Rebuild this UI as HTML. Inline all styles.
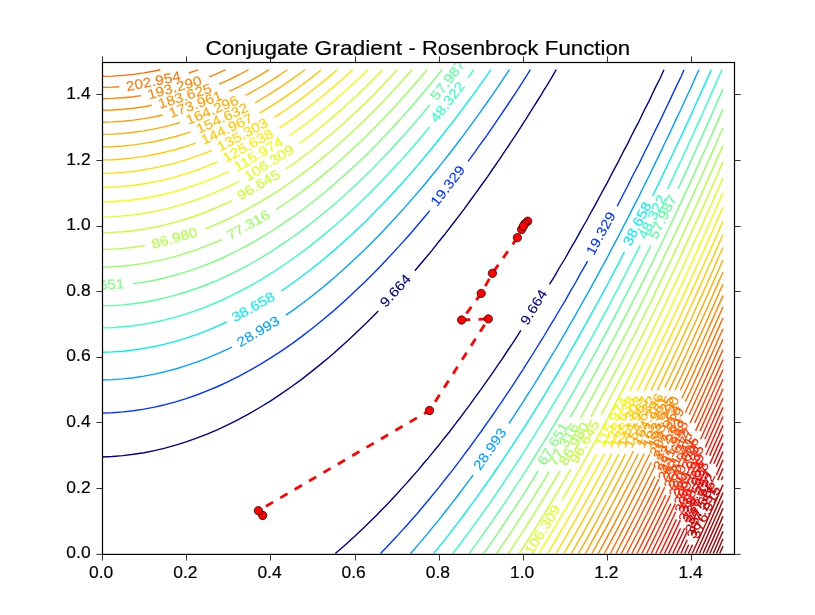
<!DOCTYPE html>
<html><head><meta charset="utf-8"><title>Conjugate Gradient - Rosenbrock Function</title>
<style>html,body{margin:0;padding:0;background:#fff;}body{width:815px;height:615px;overflow:hidden;}svg{display:block;}text{font-family:"Liberation Sans",sans-serif;}</style>
</head><body>
<svg width="815" height="615" viewBox="0 0 815 615">
<rect x="0" y="0" width="815" height="615" fill="#ffffff"/>
<defs><filter id="chroma" filterUnits="userSpaceOnUse" x="90" y="50" width="657" height="517" color-interpolation-filters="sRGB"><feColorMatrix in="SourceGraphic" type="matrix" values="0.299 0.587 0.114 0 0  0.299 0.587 0.114 0 0  0.299 0.587 0.114 0 0  0 0 0 0 1" result="Y"/><feColorMatrix in="SourceGraphic" type="matrix" values="0.3505 -0.2935 -0.057 0 0.50196  -0.1495 0.2065 -0.057 0 0.50196  -0.1495 -0.2935 0.443 0 0.50196  0 0 0 0 1" result="C"/><feConvolveMatrix in="C" order="3" kernelMatrix="1 2 1 2 4 2 1 2 1" divisor="16" edgeMode="duplicate" preserveAlpha="true" result="CB"/><feComposite in="Y" in2="CB" operator="arithmetic" k1="0" k2="1" k3="2" k4="-1.00392"/></filter></defs>
<defs><clipPath id="axclip"><rect x="102.50" y="62.50" width="632.00" height="491.90"/></clipPath></defs>
<g clip-path="url(#axclip)"><g filter="url(#chroma)"><rect x="80" y="40" width="680" height="540" fill="#fff"/>
<g clip-path="url(#axclip)" fill="none" stroke-width="1.39" stroke-linejoin="round" stroke-linecap="butt">
<path stroke="#000080" d="M335.3 553.5L344.0 546.0L354.5 536.5L365.1 526.5L370.9 520.7L375.6 516.2L379.1 512.5L386.1 505.4L396.6 494.2L402.3 487.9L407.2 482.6L409.6 479.7L417.7 470.6L423.7 463.3L428.2 458.1L430.6 455.1L438.7 445.3L443.8 438.7L449.3 432.0L456.6 422.3L459.8 418.3L462.8 414.1L470.3 404.2L474.9 397.7L480.8 389.7L486.6 381.3L491.4 374.7L498.0 364.9L501.9 359.4L509.0 348.5L512.4 343.6L514.5 340.3L520.9 330.4M549.5 284.4L550.4 282.9L554.5 276.3L560.1 266.5L565.1 258.5L569.7 250.1L575.6 240.2L579.1 233.7L583.7 225.5L586.1 221.5L588.3 217.3L592.8 209.1L596.6 202.4L601.7 192.7L607.2 182.9L610.5 176.3L614.8 168.1L617.7 162.9L623.3 151.7L628.2 142.6L631.7 135.3L635.9 127.1L638.8 121.8L644.0 110.7L649.3 100.6L652.2 94.3L656.1 86.1L659.8 79.0L664.0 69.7M101.9 457.0L112.4 456.5L122.9 455.6L133.5 454.3L144.0 452.7L154.5 450.6L165.0 448.1L175.6 445.2L186.1 441.9L196.6 438.2L207.1 434.1L217.7 429.6L228.2 424.7L238.7 419.4L249.3 413.6L259.8 407.5L270.3 401.1L280.8 394.1L291.4 386.8L301.9 379.1L312.4 370.9L322.9 362.4L329.7 356.7L333.5 353.5L344.0 344.1L348.2 340.3L356.9 332.1L365.3 323.9L373.6 315.7L378.3 310.9M414.8 270.8L425.4 258.3L432.2 250.1L438.7 241.8L445.3 233.7L451.6 225.5L464.1 209.1L470.3 200.5L476.1 192.7L480.8 186.0L487.8 176.3L491.4 171.0L499.1 159.9L501.9 155.6L504.6 151.7L510.1 143.5L512.4 139.8L515.5 135.3L520.8 127.1L523.0 123.6L526.1 118.9L531.2 110.7L533.5 107.0L536.4 102.5L541.5 94.3L544.0 90.0L546.5 86.1L551.5 77.9L554.5 72.6L556.3 69.7"/>
<path stroke="#0034ff" d="M380.5 553.5L386.1 547.8L396.6 536.6L403.5 528.9L407.2 525.0L410.8 520.7L417.7 513.0L424.9 504.3L428.2 500.5L431.7 496.1L438.7 487.6L444.9 479.7L449.3 474.3L459.8 460.6L463.8 455.1L470.3 446.5L475.9 438.7L480.8 432.0L487.5 422.3L491.4 417.0L498.9 405.9L501.9 401.6L504.5 397.7L512.4 385.8L515.3 381.3L523.0 369.6L525.9 364.9L533.5 353.0L536.2 348.5L541.3 340.3L544.0 336.0L551.2 323.9L554.5 318.6L561.0 307.5L565.1 300.8L570.5 291.1L575.6 282.5L579.8 274.7L586.1 263.8L587.5 261.2M617.2 206.2L624.1 192.7L628.2 185.0L632.4 176.3L638.8 164.2L644.8 151.7L649.3 143.0L652.9 135.3L656.9 127.1L659.8 121.4L664.8 110.7L670.3 99.4L672.6 94.3L676.4 86.1L680.9 77.0L684.1 69.7M101.9 413.1L112.4 412.7L122.9 411.9L133.5 410.7L144.0 409.1L154.5 407.1L165.0 404.7L175.6 401.9L186.1 398.6L196.6 395.0L207.1 390.9L217.7 386.5L228.2 381.6L238.7 376.4L249.3 370.7L259.8 364.6L270.3 358.2L280.8 351.3L291.4 344.1L301.9 336.4L312.4 328.3L322.9 319.8L333.5 310.9L344.0 301.6L346.5 299.3L354.5 291.8L365.1 281.7L375.6 271.2L386.1 260.3L396.6 248.9L403.0 241.9L407.2 237.2L410.3 233.7L424.3 217.3L429.8 210.6M468.1 161.3L475.2 151.7L480.8 143.7L486.9 135.3L498.2 118.9L509.2 102.5L514.6 94.3L520.0 86.1L530.4 69.7"/>
<path stroke="#00a0ff" d="M410.6 553.5L417.7 545.4L424.6 537.1L428.2 532.9L431.4 528.9L438.7 520.1L444.6 512.5L449.3 506.7L459.8 493.0L463.5 487.9L470.3 478.9L473.2 474.8M508.9 423.5L512.4 418.3L515.1 414.1L523.0 402.1L525.7 397.7L533.5 385.5L541.1 373.1L544.0 368.4L551.0 356.7L554.5 351.0L560.8 340.3L565.1 333.2L570.3 323.9L575.6 314.9L579.7 307.5L586.1 296.2L588.9 291.1L593.4 282.9L596.6 277.1L602.3 266.5L607.2 257.7L611.0 250.1L617.7 237.7L623.9 225.5L628.2 217.4L632.3 209.1L638.8 196.6L644.7 184.5L649.3 175.5L652.8 168.1L656.8 159.9L659.8 153.9L664.6 143.5L670.3 131.9L676.3 118.9L680.9 109.5L684.0 102.5L687.8 94.3L691.4 86.7L695.2 77.9L699.0 69.7M101.9 380.0L112.4 379.6L122.9 378.9L133.5 377.7L144.0 376.1L154.5 374.1L165.0 371.7L175.6 369.0L186.1 365.7L196.6 362.2L207.1 358.1L217.7 353.7L228.2 348.9L232.1 347.0M285.8 315.2L291.4 311.4L301.9 303.8L312.4 295.7L322.9 287.2L328.1 282.9L333.5 278.3L344.0 269.0L354.5 259.3L365.1 249.2L372.4 241.9L380.5 233.7L386.1 227.8L396.6 216.5L403.3 209.1L410.5 200.9L424.6 184.5L431.3 176.3L437.9 168.1L444.5 159.9L450.9 151.7L457.2 143.5L463.4 135.3L475.4 118.9L487.1 102.5L492.8 94.3L498.4 86.1L509.4 69.7"/>
<path stroke="#06ecf1" d="M433.7 553.5L438.7 547.4L449.3 534.1L453.2 528.9L459.8 520.4L465.6 512.5L470.3 506.2L477.6 496.1L480.8 491.7L491.4 476.7L494.9 471.5L501.9 461.4L506.0 455.1L512.4 445.6L516.8 438.7L523.0 429.4L527.4 422.3L533.5 412.8L537.7 405.9L544.0 395.8L547.7 389.5L554.5 378.3L557.6 373.1L565.1 360.5L571.9 348.5L575.6 342.2L581.2 332.1L586.1 323.6L590.4 315.7L596.6 304.5L603.8 291.1L607.2 285.0L612.5 274.7L617.7 265.1L621.1 258.3L624.5 251.8M652.6 196.0L654.1 192.7L659.8 181.3L666.0 168.1L670.3 159.3L673.8 151.7L677.7 143.5L680.9 136.9L685.3 127.1L691.4 114.1L696.5 102.5L701.9 90.9L707.6 77.9L711.3 69.7M101.9 352.3L112.4 351.9L122.9 351.2L133.5 350.0L144.0 348.4L154.5 346.5L165.0 344.1L175.6 341.3L186.1 338.2L196.6 334.6L207.1 330.6L217.7 326.2L226.9 322.0M281.1 291.0L291.4 284.0L301.9 276.3L312.4 268.3L322.9 259.8L333.5 250.9L344.0 241.6L354.5 231.9L361.3 225.5L365.1 221.9L375.6 211.3L386.1 200.4L393.3 192.7L400.8 184.5L407.2 177.4L415.3 168.1L422.2 159.9L428.2 152.7L438.7 139.8L442.3 135.3L455.1 118.9L467.4 102.5L473.4 94.3L479.3 86.1L485.2 77.9L490.9 69.7"/>
<path stroke="#33ffc4" d="M452.8 553.5L459.8 544.5L465.2 537.1L470.3 530.3L477.2 520.7L480.8 515.8L491.4 500.8L494.6 496.1L501.9 485.5L505.7 479.7L512.4 469.7L516.5 463.3L523.0 453.5L527.1 446.9L533.5 436.9L537.4 430.5L544.0 419.9L547.4 414.1L554.5 402.4L562.1 389.5L565.1 384.6L571.6 373.1L575.6 366.3L580.9 356.7L586.1 347.7L590.1 340.3L596.6 328.6L603.5 315.7L607.2 309.1L612.2 299.3L617.7 289.2L620.9 282.9L625.1 274.7L628.2 268.8L633.5 258.3L638.8 248.1L640.1 245.3M667.5 189.2L670.3 183.4L673.6 176.3L677.4 168.1L680.9 161.0L685.1 151.7L691.4 138.2L696.3 127.1L701.9 115.0L707.4 102.5L712.4 91.4L718.2 77.9L721.9 69.7M101.9 327.9L112.4 327.6L122.9 326.8L133.5 325.7L144.0 324.1L154.5 322.2L165.0 319.9L175.6 317.1L186.1 313.9L196.6 310.3L207.1 306.3L217.7 302.0L228.2 297.2L238.7 291.9L249.3 286.3L259.8 280.3L270.3 273.9L280.8 267.0L291.4 259.8L301.9 252.2L312.4 244.1L322.9 235.6L333.5 226.8L344.0 217.5L353.1 209.1L365.1 197.7L375.6 187.2L386.1 176.3L393.8 168.1L401.3 159.9L408.6 151.7L417.7 141.2L422.7 135.3L429.6 126.9M468.0 77.6L473.8 69.7"/>
<path stroke="#5aff9d" d="M469.3 553.5L480.8 537.6L486.9 528.9L491.4 522.6L498.2 512.5L501.9 507.2L509.3 496.1L512.4 491.4L523.0 475.2L530.5 463.3L533.5 458.6L540.7 446.9L544.0 441.6L550.7 430.5L554.5 424.2L560.4 414.1L565.1 406.4L570.0 397.7L575.6 388.1L579.3 381.3L586.1 369.4L593.1 356.7L596.6 350.3L602.0 340.3L607.2 330.8L610.8 323.9L617.7 310.9L623.6 299.3L628.2 290.6L632.1 282.9L638.8 269.9L644.4 258.3L649.3 248.7L650.9 245.4M677.9 189.1L680.9 182.8L687.6 168.1L691.4 160.0L695.1 151.7L698.8 143.5L701.9 136.8L706.1 127.1L712.4 113.2L717.0 102.5L723.0 89.1M101.9 305.9L112.4 305.6L122.9 304.9L133.5 303.8L144.0 302.2L154.5 300.3L165.0 297.9L175.6 295.2L186.1 292.0L196.6 288.5L207.1 284.5L217.7 280.1L228.2 275.3L238.7 270.1L249.3 264.5L259.8 258.5L270.3 252.1L280.8 245.2L291.4 238.0L301.9 230.4L312.4 222.3L322.9 213.8L333.5 205.0L344.0 195.7L354.5 186.0L365.1 175.9L375.6 165.4L386.1 154.5L388.8 151.7L396.6 143.2L407.2 131.5L417.7 119.4L425.0 110.7L429.8 105.0"/>
<path stroke="#7aff7d" d="M483.7 553.5L491.4 542.6L495.1 537.1L501.9 527.2L506.2 520.7L512.4 511.5L517.0 504.3L523.0 495.3L527.6 487.9L533.5 478.7L538.2 470.9M570.3 417.2L575.6 408.1L581.4 397.7L586.1 389.5L590.5 381.3L596.6 370.3L604.0 356.7L607.2 350.9L612.7 340.3L617.7 331.0L621.3 323.9L628.2 310.6L633.9 299.3L638.8 289.9L642.2 282.9L649.3 268.8L654.3 258.3L659.8 247.2L666.2 233.7L670.3 225.3L674.0 217.3L680.9 202.9L685.5 192.7L691.4 180.1L696.7 168.1L701.9 156.8L707.8 143.5L712.4 133.2L718.6 118.9L723.0 109.2M133.0 283.6L144.0 282.1L154.5 280.2L165.0 277.8L175.6 275.0L186.1 271.9L196.6 268.3L207.1 264.4L217.7 260.0L228.2 255.2L238.7 250.0L249.3 244.4L259.8 238.4L270.3 232.0L280.8 225.1L291.4 217.9L301.9 210.3L312.4 202.2L324.2 192.7L333.5 184.9L344.0 175.6L354.5 166.0L365.1 155.9L375.6 145.4L386.1 134.5L396.6 123.2L400.5 118.9L407.2 111.5L415.0 102.5L422.0 94.3L428.2 86.8L435.5 77.9L442.1 69.7"/>
<path stroke="#97ff60" d="M496.6 553.5L501.9 545.9L507.7 537.1L512.4 530.1L518.5 520.7L523.0 513.9L529.0 504.3L533.5 497.3L539.2 487.9L544.0 480.3L549.0 471.8M580.5 417.8L586.1 408.1L591.8 397.7L596.6 389.0L600.7 381.3L607.2 369.5L613.9 356.7L617.7 349.6L622.4 340.3L628.2 329.3L635.0 315.7L638.8 308.5L643.3 299.3L649.3 287.4L655.4 274.7L659.8 265.9L663.3 258.3L670.3 243.9L675.0 233.7L680.9 221.5L686.5 209.1L691.4 198.7L697.7 184.5L701.9 175.5L708.8 159.9L712.4 151.9L716.0 143.5L719.6 135.3L723.0 127.9M101.9 267.0L112.4 266.7L122.9 266.0L133.5 264.9L144.0 263.4L154.5 261.4L165.0 259.1L175.6 256.3L186.1 253.2L196.6 249.6L207.1 245.7L217.7 241.3L221.7 239.5M276.4 209.4L280.8 206.5L291.4 199.3L301.9 191.6L312.4 183.6L322.9 175.1L333.5 166.3L344.0 157.0L354.5 147.3L365.1 137.2L375.6 126.7L386.1 115.9L390.9 110.7L396.6 104.6L407.2 92.8L417.7 80.7L427.0 69.7"/>
<path stroke="#b1ff46" d="M508.4 553.5L512.4 547.6L519.2 537.1L523.0 531.4L529.7 520.7L533.5 514.8L539.9 504.3L544.0 497.8L549.9 487.9L554.5 480.3L559.9 471.2M590.8 416.9L596.6 406.5L601.3 397.7L607.2 387.0L614.5 373.1L617.7 367.1L623.0 356.7L628.2 346.8L631.5 340.3L638.8 326.0L643.8 315.7L649.3 304.9L656.0 291.1L659.8 283.4L663.9 274.7L670.3 261.4L675.6 250.1L680.9 239.0L687.0 225.5L691.4 216.2L698.3 200.9L701.9 193.0L705.6 184.5L712.4 169.4L716.5 159.9L723.0 145.4M101.9 249.4L112.4 249.1L122.9 248.4L133.5 247.3L145.1 245.6M205.2 228.8L207.1 228.1L217.7 223.7L228.2 219.0L238.7 213.8L249.3 208.2L259.8 202.2L270.3 195.8L280.8 189.0L291.4 181.7L301.9 174.1L312.4 166.1L322.9 157.6L333.5 148.8L339.5 143.5L344.0 139.5L354.5 129.8L365.1 119.7L375.6 109.2L386.1 98.4L396.6 87.0L407.2 75.3L412.1 69.7"/>
<path stroke="#c7ff30" d="M519.3 553.5L523.0 547.9L529.8 537.1L533.5 531.3L540.0 520.7L544.0 514.3L550.0 504.3L554.5 496.9L559.8 487.9L565.1 479.0L570.7 469.3M601.1 414.7L607.2 403.5L614.5 389.5L617.7 383.6L623.1 373.1L628.2 363.3L631.5 356.7L638.8 342.6L643.9 332.1L649.3 321.5L656.0 307.5L659.8 299.9L664.0 291.1L670.3 277.9L675.6 266.5L680.9 255.6L687.1 241.9L691.4 232.8L698.3 217.3L701.9 209.6L705.7 200.9L712.4 186.0L716.6 176.3L723.0 161.9M101.9 232.7L112.4 232.4L122.9 231.8L133.5 230.7L144.0 229.1L154.5 227.2L165.0 224.9L175.6 222.2L186.1 219.0L196.6 215.5L207.1 211.5L217.7 207.1L228.2 202.4L232.3 200.4M286.1 168.8L291.4 165.2L301.9 157.5L312.4 149.5L322.9 141.0L329.8 135.3L333.5 132.2L344.0 122.9L354.5 113.3L357.2 110.7L365.1 103.2L374.0 94.3L386.1 81.8L397.3 69.7"/>
<path stroke="#dbff1c" d="M562.2 499.6L565.1 494.8L569.0 487.9L575.6 476.5L583.0 463.3L586.1 457.9L592.1 446.9L596.6 438.8L601.1 430.5L607.2 419.3L614.2 405.9L617.7 399.4L622.8 389.5L628.2 379.1L635.4 364.9L638.8 358.3L643.6 348.5L649.3 337.2L655.7 323.9L659.8 315.7L663.7 307.5L670.3 293.7L675.3 282.9L680.9 271.3L686.8 258.3L691.4 248.5L698.0 233.7L701.9 225.4L705.4 217.3L712.4 201.7L716.3 192.7L723.0 177.7M101.9 216.9L112.4 216.6L122.9 215.9L133.5 214.9L144.0 213.3L154.5 211.4L165.0 209.1L175.6 206.4L186.1 203.2L196.6 199.7L207.1 195.7L217.7 191.4L228.2 186.6L239.6 181.0M299.5 143.5L301.9 141.8L312.4 133.7L322.9 125.3L333.5 116.4L344.0 107.2L354.5 97.5L365.1 87.4L375.6 76.9L382.6 69.7"/>
<path stroke="#eeff09" d="M538.8 553.5L544.0 545.1L548.8 537.1L554.5 527.7L558.6 520.7L565.1 509.8L575.6 491.6L582.2 479.7L586.1 472.9L591.4 463.3L596.8 453.5M629.8 390.9L634.7 381.3L638.8 373.4L642.9 364.9L649.3 352.2L655.1 340.3L659.8 330.7L666.9 315.7L670.3 308.7L674.7 299.3L680.9 286.4L686.2 274.7L691.4 263.6L697.4 250.1L701.9 240.4L708.5 225.5L712.4 216.8L719.3 200.9L723.0 192.8M101.9 201.8L112.4 201.5L122.9 200.8L133.5 199.7L144.0 198.2L154.5 196.3L165.0 194.0L175.6 191.3L186.1 188.2L196.6 184.6L207.1 180.7L217.7 176.3L228.5 171.4M289.5 135.6L291.4 134.3L301.9 126.7L312.4 118.7L322.9 110.2L333.5 101.4L344.0 92.1L354.5 82.5L365.1 72.4L367.8 69.7"/>
<path stroke="#feed00" d="M547.6 553.5L554.5 542.1L565.1 524.2L571.8 512.5L575.6 506.0L581.1 496.1L586.1 487.3L590.3 479.7L596.6 468.2L604.5 453.6M637.2 390.8L638.8 387.8L646.0 373.1L649.3 366.7L654.1 356.7L659.8 345.1L666.0 332.1L670.3 323.2L673.8 315.7L680.9 300.8L685.3 291.1L691.4 278.0L696.5 266.5L701.9 254.8L707.6 241.9L712.4 231.2L718.5 217.3L723.0 207.2M101.9 187.3L112.4 187.1L122.9 186.4L133.5 185.3L144.0 183.8L154.5 181.9L165.0 179.6L175.6 176.8L186.1 173.7L196.6 170.1L207.1 166.2L217.5 161.9M279.5 127.9L291.4 119.9L301.9 112.3L312.4 104.2L322.9 95.8L333.5 86.9L344.0 77.7L352.7 69.7"/>
<path stroke="#ffdb00" d="M556.0 553.5L565.1 538.1L570.3 528.9L575.6 519.9L579.7 512.5L586.1 501.2L596.6 482.1L602.3 471.5L607.2 462.6L611.9 453.7M644.2 390.7L649.3 380.6L652.9 373.1L659.8 359.0L664.8 348.5L670.3 337.1L676.5 323.9L680.9 314.7L687.9 299.3L691.4 291.9L695.4 282.9L701.9 268.7L706.5 258.3L712.4 245.1L717.4 233.7L723.0 221.1M101.9 173.4L112.4 173.1L122.9 172.4L133.5 171.4L144.0 169.8L154.5 167.9L165.0 165.6L175.6 162.9L186.1 159.8L196.6 156.2L207.1 152.3L211.7 150.4M274.3 117.4L280.8 113.2L291.4 106.0L301.9 98.4L312.4 90.3L322.9 81.9L333.5 73.1L337.3 69.7"/>
<path stroke="#ffc800" d="M563.9 553.5L575.6 533.3L586.1 514.6L591.7 504.3L596.6 495.5L600.7 487.9L607.2 476.0L618.9 453.8M650.9 390.6L655.4 381.3L659.8 372.4L663.4 364.9L670.3 350.5L675.1 340.3L680.9 328.1L686.5 315.7L691.4 305.3L697.8 291.1L701.9 282.1L708.8 266.5L712.4 258.5L716.1 250.1L723.0 234.5M101.9 159.9L112.4 159.7L122.9 159.0L133.5 157.9L144.0 156.4L154.5 154.5L165.0 152.2L175.6 149.5L186.1 146.4L195.5 143.2M259.5 113.2L270.3 106.6L280.8 99.8L291.4 92.6L301.9 85.0L312.4 76.9L321.4 69.7"/>
<path stroke="#ffb900" d="M571.3 553.5L575.6 546.2L580.7 537.1L586.1 527.6L589.9 520.7L596.6 508.5L603.3 496.1L607.2 489.0L612.0 479.7L617.7 469.1L625.5 453.9M657.2 390.5L659.8 385.4L665.6 373.1L670.3 363.4L677.3 348.5L680.9 341.1L684.9 332.1L691.4 318.3L696.2 307.5L701.9 295.1L707.3 282.9L712.4 271.5L718.1 258.3L723.0 247.5M101.9 147.0L112.4 146.7L122.9 146.0L133.5 144.9L144.0 143.4L154.5 141.5L165.0 139.2L175.6 136.5L186.1 133.4L190.5 131.9M255.0 102.8L259.8 100.0L270.3 93.6L280.8 86.8L291.4 79.6L301.9 72.0L304.9 69.7"/>
<path stroke="#ffab00" d="M578.5 553.5L586.1 540.1L592.3 528.9L596.6 521.0L601.2 512.5L607.2 501.5L614.3 487.9L617.7 481.6L622.9 471.5L628.2 461.3L633.4 451.1M664.7 387.6L670.3 376.0L675.5 364.9L680.9 353.6L687.0 340.3L691.4 330.8L698.2 315.7L701.9 307.6L705.6 299.3L712.4 284.0L716.5 274.7L723.0 260.0M101.9 134.4L112.4 134.1L122.9 133.4L133.5 132.3L144.0 130.9L154.5 128.9L165.0 126.6L175.6 123.9L180.1 122.6M245.4 95.5L249.3 93.4L259.8 87.5L270.3 81.1L280.8 74.3L287.5 69.7"/>
<path stroke="#ff9c00" d="M585.4 553.5L596.6 533.2L603.4 520.7L607.2 513.7L612.1 504.3L617.7 493.8L628.2 473.5L633.4 463.3L638.1 454.0M669.2 390.4L677.4 373.1L680.9 365.8L685.0 356.7L691.4 343.0L696.3 332.1L701.9 319.8L707.4 307.5L712.4 296.2L718.2 282.9L723.0 272.2M101.9 122.2L112.4 121.9L122.9 121.2L133.5 120.1L144.0 118.6L154.5 116.7L162.6 115.0M229.3 91.4L238.7 86.8L249.3 81.3L259.8 75.3L268.9 69.7"/>
<path stroke="#ff9100" d="M591.9 553.5L596.6 545.1L600.9 537.1L607.2 525.6L614.1 512.5L617.7 505.7L622.6 496.1L628.2 485.4L635.2 471.5L638.8 464.7L644.1 453.8M675.0 390.0L680.9 377.7L686.7 364.9L691.4 354.9L698.0 340.3L701.9 331.7L709.0 315.7L712.4 308.1L716.2 299.3L723.0 284.1M101.9 110.2L112.4 110.0L122.9 109.3L133.5 108.2L144.0 106.8L151.8 105.3M219.2 84.2L228.2 80.1L238.7 75.0L248.6 69.7"/>
<path stroke="#ff8200" d="M598.3 553.5L607.2 537.1L611.5 528.9L617.7 517.2L624.4 504.3L628.2 496.9L632.8 487.9L638.8 476.2L645.1 463.3L649.7 454.2M680.3 390.3L688.3 373.1L691.4 366.4L695.8 356.7L701.9 343.2L706.8 332.1L712.4 319.6L717.7 307.5L723.0 295.6M101.9 98.7L112.4 98.4L122.9 97.7L133.5 96.7L140.9 95.6M209.1 76.9L217.7 73.3L225.7 69.7"/>
<path stroke="#ff7700" d="M604.4 553.5L607.2 548.4L613.1 537.1L617.7 528.5L621.7 520.7L628.2 508.2L634.3 496.1L638.8 487.5L642.6 479.7L649.3 466.3L651.2 462.4M681.8 398.5L685.9 389.5L691.4 377.7L697.1 364.9L701.9 354.5L708.2 340.3L712.4 330.9L719.1 315.7L723.0 306.9M101.9 87.4L112.4 87.1L119.4 86.7M188.7 73.0L196.6 70.3L198.3 69.7"/>
<path stroke="#ff6c00" d="M610.3 553.5L617.7 539.5L623.1 528.9L628.2 519.2L638.8 498.5L644.0 487.9L649.3 477.3L654.9 465.7M685.3 401.7L691.4 388.7L698.4 373.1L701.9 365.5L705.8 356.7L712.4 341.9L716.7 332.1L723.0 317.9M101.9 76.4L112.4 76.1L122.9 75.4L133.5 74.4L144.0 72.9L154.5 71.0L160.3 69.7"/>
<path stroke="#ff6000" d="M616.0 553.5L617.7 550.2L628.2 529.9L632.9 520.7L638.8 509.2L645.2 496.1L649.3 488.1L654.9 476.5M685.3 412.5L691.4 399.5L695.9 389.5L701.9 376.3L706.9 364.9L712.4 352.7L717.8 340.3L723.0 328.7"/>
<path stroke="#ff5500" d="M621.4 553.5L628.2 540.5L634.1 528.9L638.8 519.7L642.3 512.5L649.3 498.6L658.9 478.9M689.1 414.8L691.4 410.0L696.9 397.7L701.9 386.8L708.0 373.1L712.4 363.2L718.8 348.5L723.0 339.2"/>
<path stroke="#ff4e00" d="M626.8 553.5L638.8 530.0L643.4 520.7L649.3 508.9L655.5 496.1L659.9 487.1M690.1 423.0L701.9 397.1L708.9 381.3L712.4 373.5L716.2 364.9L723.0 349.5"/>
<path stroke="#ff4300" d="M631.9 553.5L638.8 540.1L644.3 528.9L649.3 519.0L659.8 497.5L664.7 487.1M694.7 422.9L701.9 407.2L706.1 397.7L712.4 383.6L717.0 373.1L723.0 359.6"/>
<path stroke="#ff3b00" d="M637.0 553.5L638.8 550.0L645.2 537.1L649.3 528.9L653.3 520.7L659.8 507.4L665.7 495.1M695.6 430.9L701.9 417.1L706.9 405.9L712.4 393.5L717.7 381.3L723.0 369.5"/>
<path stroke="#ff3000" d="M641.8 553.5L649.3 538.6L654.0 528.9L659.8 517.1L665.9 504.3L670.2 495.4M700.0 431.1L701.9 426.8L707.5 414.1L712.4 403.2L718.4 389.5L723.0 379.2"/>
<path stroke="#ff2900" d="M646.6 553.5L649.3 548.2L654.7 537.1L659.8 526.7L670.9 503.6M700.6 439.3L712.4 412.8L719.0 397.7L723.0 388.8"/>
<path stroke="#ff2200" d="M651.3 553.5L659.8 536.0L670.3 514.1L675.2 503.6M704.8 439.2L712.4 422.2L715.9 414.1L723.0 398.2"/>
<path stroke="#ff1a00" d="M655.7 553.5L659.8 545.3L663.7 537.1L670.3 523.3L675.7 511.8M705.3 447.4L712.4 431.4L716.4 422.3L723.0 407.4"/>
<path stroke="#ff1300" d="M660.2 553.5L670.3 532.4L676.4 519.4M705.9 455.0L712.4 440.5L716.8 430.5L723.0 416.5"/>
<path stroke="#f60b00" d="M664.5 553.5L670.3 541.4L680.3 520.1M709.7 455.6L712.4 449.4L717.1 438.7L723.0 425.4"/>
<path stroke="#ed0400" d="M668.7 553.5L680.6 528.3M709.9 463.8L712.4 458.3L717.4 446.9L723.0 434.2"/>
<path stroke="#e40000" d="M672.8 553.5L680.9 536.5L684.6 528.3M713.8 463.8L723.0 442.9"/>
<path stroke="#da0000" d="M676.8 553.5L680.9 545.1L687.2 531.3M716.3 466.7L723.0 451.5"/>
<path stroke="#d10000" d="M680.9 553.5L687.2 539.7M716.3 475.2L723.0 459.9"/>
<path stroke="#c80000" d="M684.7 553.5L688.7 544.7M717.7 480.1L723.0 468.3"/>
<path stroke="#c40000" d="M688.5 553.5L692.5 544.8M721.4 480.1L723.0 476.5"/>
<path stroke="#bb0000" d="M692.2 553.5L701.9 532.2L712.4 508.6L723.0 484.6"/>
<path stroke="#b20000" d="M695.8 553.5L701.9 540.2L712.4 516.6L723.0 492.6"/>
<path stroke="#ad0000" d="M699.4 553.5L701.9 548.1L712.4 524.5L723.0 500.5"/>
<path stroke="#a40000" d="M703.0 553.5L712.4 532.4L723.0 508.3"/>
<path stroke="#9f0000" d="M706.4 553.5L712.4 540.1L723.0 516.1"/>
<path stroke="#960000" d="M709.8 553.5L712.4 547.7L723.0 523.7"/>
<path stroke="#920000" d="M713.2 553.5L723.0 531.3"/>
<path stroke="#890000" d="M716.5 553.5L723.0 538.8"/>
<path stroke="#840000" d="M719.7 553.5L723.0 546.2"/>
</g>
<g clip-path="url(#axclip)">
<polyline fill="none" stroke="#ff0000" stroke-width="2.78" stroke-dasharray="8.33 8.33" stroke-dashoffset="1.5" points="262.7,515.5 258.4,510.7 429.5,410.5 488.3,318.9 461.6,320.0 481.2,293.4 492.4,273.3 517.4,237.6 521.6,229.5 527.7,221.2 524.9,223.7 523.4,226.2"/>
<circle cx="262.7" cy="515.5" r="4.17" fill="#ff0000" stroke="#000000" stroke-width="0.7"/>
<circle cx="258.4" cy="510.7" r="4.17" fill="#ff0000" stroke="#000000" stroke-width="0.7"/>
<circle cx="429.5" cy="410.5" r="4.17" fill="#ff0000" stroke="#000000" stroke-width="0.7"/>
<circle cx="488.3" cy="318.9" r="4.17" fill="#ff0000" stroke="#000000" stroke-width="0.7"/>
<circle cx="461.6" cy="320.0" r="4.17" fill="#ff0000" stroke="#000000" stroke-width="0.7"/>
<circle cx="481.2" cy="293.4" r="4.17" fill="#ff0000" stroke="#000000" stroke-width="0.7"/>
<circle cx="492.4" cy="273.3" r="4.17" fill="#ff0000" stroke="#000000" stroke-width="0.7"/>
<circle cx="517.4" cy="237.6" r="4.17" fill="#ff0000" stroke="#000000" stroke-width="0.7"/>
<circle cx="521.6" cy="229.5" r="4.17" fill="#ff0000" stroke="#000000" stroke-width="0.7"/>
<circle cx="527.7" cy="221.2" r="4.17" fill="#ff0000" stroke="#000000" stroke-width="0.7"/>
<circle cx="524.9" cy="223.7" r="4.17" fill="#ff0000" stroke="#000000" stroke-width="0.7"/>
<circle cx="523.4" cy="226.2" r="4.17" fill="#ff0000" stroke="#000000" stroke-width="0.7"/>
</g>
<g clip-path="url(#axclip)" font-size="13.60" text-anchor="middle" style="opacity:0.999">
<text fill="#000080" stroke="#000080" stroke-width="0.1" transform="translate(534.4 307.5) rotate(-58.1) scale(1.1300 1)" y="3.90">9.664</text>
<text fill="#000080" stroke="#000080" stroke-width="0.1" transform="translate(395.8 291.1) rotate(-47.7) scale(1.1300 1)" y="3.90">9.664</text>
<text fill="#0034ff" stroke="#0034ff" stroke-width="0.1" transform="translate(601.4 233.7) rotate(-61.7) scale(1.1300 1)" y="3.90">19.329</text>
<text fill="#0034ff" stroke="#0034ff" stroke-width="0.1" transform="translate(448.3 186.2) rotate(-52.1) scale(1.1300 1)" y="3.90">19.329</text>
<text fill="#00a0ff" stroke="#00a0ff" stroke-width="0.1" transform="translate(490.4 449.4) rotate(-55.2) scale(1.1300 1)" y="3.90">28.993</text>
<text fill="#00a0ff" stroke="#00a0ff" stroke-width="0.1" transform="translate(258.5 332.1) rotate(-30.6) scale(1.1300 1)" y="3.90">28.993</text>
<text fill="#06ecf1" stroke="#06ecf1" stroke-width="0.1" transform="translate(637.8 224.0) rotate(-63.3) scale(1.1300 1)" y="3.90">38.658</text>
<text fill="#06ecf1" stroke="#06ecf1" stroke-width="0.1" transform="translate(253.5 307.5) rotate(-29.8) scale(1.1300 1)" y="3.90">38.658</text>
<text fill="#33ffc4" stroke="#33ffc4" stroke-width="0.1" transform="translate(652.9 217.3) rotate(-64.0) scale(1.1300 1)" y="3.90">48.322</text>
<text fill="#33ffc4" stroke="#33ffc4" stroke-width="0.1" transform="translate(448.1 102.5) rotate(-52.1) scale(1.1300 1)" y="3.90">48.322</text>
<text fill="#5aff9d" stroke="#5aff9d" stroke-width="0.1" transform="translate(663.4 217.3) rotate(-64.4) scale(1.1300 1)" y="3.90">57.987</text>
<text fill="#5aff9d" stroke="#5aff9d" stroke-width="0.1" transform="translate(448.3 80.6) rotate(-51.8) scale(1.1300 1)" y="3.90">57.987</text>
<text fill="#7aff7d" stroke="#7aff7d" stroke-width="0.1" transform="translate(553.5 444.2) rotate(-59.2) scale(1.1300 1)" y="3.90">67.651</text>
<text fill="#7aff7d" stroke="#7aff7d" stroke-width="0.1" transform="translate(100.9 285.7) rotate(-3.3) scale(1.1300 1)" y="3.90">67.651</text>
<text fill="#97ff60" stroke="#97ff60" stroke-width="0.1" transform="translate(564.1 445.0) rotate(-59.8) scale(1.1300 1)" y="3.90">77.316</text>
<text fill="#97ff60" stroke="#97ff60" stroke-width="0.1" transform="translate(248.6 225.5) rotate(-28.9) scale(1.1300 1)" y="3.90">77.316</text>
<text fill="#b1ff46" stroke="#b1ff46" stroke-width="0.1" transform="translate(574.6 444.2) rotate(-60.3) scale(1.1300 1)" y="3.90">86.980</text>
<text fill="#b1ff46" stroke="#b1ff46" stroke-width="0.1" transform="translate(174.6 238.8) rotate(-15.6) scale(1.1300 1)" y="3.90">86.980</text>
<text fill="#c7ff30" stroke="#c7ff30" stroke-width="0.1" transform="translate(585.1 442.1) rotate(-60.8) scale(1.1300 1)" y="3.90">96.645</text>
<text fill="#c7ff30" stroke="#c7ff30" stroke-width="0.1" transform="translate(258.8 185.6) rotate(-30.4) scale(1.1300 1)" y="3.90">96.645</text>
<text fill="#dbff1c" stroke="#dbff1c" stroke-width="0.1" transform="translate(543.0 530.1) rotate(-58.6) scale(1.1300 1)" y="3.90">106.309</text>
<text fill="#dbff1c" stroke="#dbff1c" stroke-width="0.1" transform="translate(269.3 163.4) rotate(-32.0) scale(1.1300 1)" y="3.90">106.309</text>
<text fill="#eeff09" stroke="#eeff09" stroke-width="0.1" transform="translate(612.5 422.3) rotate(-62.1) scale(1.1300 1)" y="3.90">115.974</text>
<text fill="#eeff09" stroke="#eeff09" stroke-width="0.1" transform="translate(258.8 154.8) rotate(-30.4) scale(1.1300 1)" y="3.90">115.974</text>
<text fill="#feed00" stroke="#feed00" stroke-width="0.1" transform="translate(620.0 422.3) rotate(-62.6) scale(1.1300 1)" y="3.90">125.638</text>
<text fill="#feed00" stroke="#feed00" stroke-width="0.1" transform="translate(248.3 146.3) rotate(-28.7) scale(1.1300 1)" y="3.90">125.638</text>
<text fill="#ffdb00" stroke="#ffdb00" stroke-width="0.1" transform="translate(627.3 422.3) rotate(-62.8) scale(1.1300 1)" y="3.90">135.303</text>
<text fill="#ffdb00" stroke="#ffdb00" stroke-width="0.1" transform="translate(242.8 135.3) rotate(-27.8) scale(1.1300 1)" y="3.90">135.303</text>
<text fill="#ffc800" stroke="#ffc800" stroke-width="0.1" transform="translate(634.0 422.3) rotate(-63.1) scale(1.1300 1)" y="3.90">144.967</text>
<text fill="#ffc800" stroke="#ffc800" stroke-width="0.1" transform="translate(227.2 129.7) rotate(-25.2) scale(1.1300 1)" y="3.90">144.967</text>
<text fill="#ffb900" stroke="#ffb900" stroke-width="0.1" transform="translate(640.6 422.3) rotate(-63.5) scale(1.1300 1)" y="3.90">154.632</text>
<text fill="#ffb900" stroke="#ffb900" stroke-width="0.1" transform="translate(222.5 118.9) rotate(-24.4) scale(1.1300 1)" y="3.90">154.632</text>
<text fill="#ffab00" stroke="#ffab00" stroke-width="0.1" transform="translate(648.3 419.5) rotate(-63.7) scale(1.1300 1)" y="3.90">164.296</text>
<text fill="#ffab00" stroke="#ffab00" stroke-width="0.1" transform="translate(212.4 110.7) rotate(-22.6) scale(1.1300 1)" y="3.90">164.296</text>
<text fill="#ff9c00" stroke="#ff9c00" stroke-width="0.1" transform="translate(652.8 422.3) rotate(-63.9) scale(1.1300 1)" y="3.90">173.961</text>
<text fill="#ff9c00" stroke="#ff9c00" stroke-width="0.1" transform="translate(195.6 105.0) rotate(-19.5) scale(1.1300 1)" y="3.90">173.961</text>
<text fill="#ff9100" stroke="#ff9100" stroke-width="0.1" transform="translate(658.8 422.0) rotate(-64.2) scale(1.1300 1)" y="3.90">183.625</text>
<text fill="#ff9100" stroke="#ff9100" stroke-width="0.1" transform="translate(185.1 96.7) rotate(-17.5) scale(1.1300 1)" y="3.90">183.625</text>
<text fill="#ff8200" stroke="#ff8200" stroke-width="0.1" transform="translate(664.1 422.3) rotate(-64.4) scale(1.1300 1)" y="3.90">193.290</text>
<text fill="#ff8200" stroke="#ff8200" stroke-width="0.1" transform="translate(174.6 88.3) rotate(-15.4) scale(1.1300 1)" y="3.90">193.290</text>
<text fill="#ff7700" stroke="#ff7700" stroke-width="0.1" transform="translate(665.6 430.5) rotate(-64.4) scale(1.1300 1)" y="3.90">202.954</text>
<text fill="#ff7700" stroke="#ff7700" stroke-width="0.1" transform="translate(153.5 82.0) rotate(-11.2) scale(1.1300 1)" y="3.90">202.954</text>
<text fill="#ff6c00" stroke="#ff6c00" stroke-width="0.1" transform="translate(669.3 433.8) rotate(-64.6) scale(1.1300 1)" y="3.90">212.619</text>
<text fill="#ff6000" stroke="#ff6000" stroke-width="0.1" transform="translate(669.3 444.6) rotate(-64.6) scale(1.1300 1)" y="3.90">222.283</text>
<text fill="#ff5500" stroke="#ff5500" stroke-width="0.1" transform="translate(673.2 446.9) rotate(-64.8) scale(1.1300 1)" y="3.90">231.948</text>
<text fill="#ff4e00" stroke="#ff4e00" stroke-width="0.1" transform="translate(674.1 455.1) rotate(-64.8) scale(1.1300 1)" y="3.90">241.612</text>
<text fill="#ff4300" stroke="#ff4300" stroke-width="0.1" transform="translate(678.9 455.1) rotate(-64.9) scale(1.1300 1)" y="3.90">251.277</text>
<text fill="#ff3b00" stroke="#ff3b00" stroke-width="0.1" transform="translate(679.9 463.1) rotate(-65.0) scale(1.1300 1)" y="3.90">260.941</text>
<text fill="#ff3000" stroke="#ff3000" stroke-width="0.1" transform="translate(684.2 463.3) rotate(-65.2) scale(1.1300 1)" y="3.90">270.606</text>
<text fill="#ff2900" stroke="#ff2900" stroke-width="0.1" transform="translate(684.8 471.5) rotate(-65.2) scale(1.1300 1)" y="3.90">280.270</text>
<text fill="#ff2200" stroke="#ff2200" stroke-width="0.1" transform="translate(689.2 471.5) rotate(-65.3) scale(1.1300 1)" y="3.90">289.935</text>
<text fill="#ff1a00" stroke="#ff1a00" stroke-width="0.1" transform="translate(689.7 479.7) rotate(-65.3) scale(1.1300 1)" y="3.90">299.599</text>
<text fill="#ff1300" stroke="#ff1300" stroke-width="0.1" transform="translate(690.4 487.3) rotate(-65.4) scale(1.1300 1)" y="3.90">309.264</text>
<text fill="#f60b00" stroke="#f60b00" stroke-width="0.1" transform="translate(694.1 487.9) rotate(-65.5) scale(1.1300 1)" y="3.90">318.928</text>
<text fill="#ed0400" stroke="#ed0400" stroke-width="0.1" transform="translate(694.4 496.1) rotate(-65.6) scale(1.1300 1)" y="3.90">328.593</text>
<text fill="#e40000" stroke="#e40000" stroke-width="0.1" transform="translate(698.4 496.1) rotate(-65.6) scale(1.1300 1)" y="3.90">338.257</text>
<text fill="#da0000" stroke="#da0000" stroke-width="0.1" transform="translate(700.9 499.1) rotate(-65.8) scale(1.1300 1)" y="3.90">347.922</text>
<text fill="#d10000" stroke="#d10000" stroke-width="0.1" transform="translate(700.9 507.5) rotate(-65.8) scale(1.1300 1)" y="3.90">357.586</text>
<text fill="#c80000" stroke="#c80000" stroke-width="0.1" transform="translate(702.4 512.5) rotate(-65.9) scale(1.1300 1)" y="3.90">367.251</text>
<text fill="#c40000" stroke="#c40000" stroke-width="0.1" transform="translate(706.0 512.5) rotate(-66.0) scale(1.1300 1)" y="3.90">376.915</text>
</g>
</g></g>
<rect x="102.5" y="62.5" width="632" height="491.9" fill="none" stroke="#000" stroke-width="1.2"/>
<path fill="none" stroke="#000" stroke-width="0.8" d="M102.5 554.40v6.10M102.5 62.50v-6.10M102.50 554.4h-6.10M734.50 554.4h6.10M186.5 554.40v6.10M186.5 62.50v-6.10M102.50 488.5h-6.10M734.50 488.5h6.10M270.5 554.40v6.10M270.5 62.50v-6.10M102.50 422.5h-6.10M734.50 422.5h6.10M355.5 554.40v6.10M355.5 62.50v-6.10M102.50 357.5h-6.10M734.50 357.5h6.10M439.5 554.40v6.10M439.5 62.50v-6.10M102.50 291.5h-6.10M734.50 291.5h6.10M523.5 554.40v6.10M523.5 62.50v-6.10M102.50 226.5h-6.10M734.50 226.5h6.10M607.5 554.40v6.10M607.5 62.50v-6.10M102.50 160.5h-6.10M734.50 160.5h6.10M691.5 554.40v6.10M691.5 62.50v-6.10M102.50 94.5h-6.10M734.50 94.5h6.10"/>
<g font-size="17.10" fill="#000" stroke="#000" stroke-width="0.2" style="opacity:0.999">
<text text-anchor="middle" transform="translate(101.1 578.0) scale(1.0200 1)">0.0</text>
<text text-anchor="end" transform="translate(90.6 558.1) scale(1.0200 1)">0.0</text>
<text text-anchor="middle" transform="translate(185.3 578.0) scale(1.0200 1)">0.2</text>
<text text-anchor="end" transform="translate(90.6 492.5) scale(1.0200 1)">0.2</text>
<text text-anchor="middle" transform="translate(269.5 578.0) scale(1.0200 1)">0.4</text>
<text text-anchor="end" transform="translate(90.6 426.9) scale(1.0200 1)">0.4</text>
<text text-anchor="middle" transform="translate(353.7 578.0) scale(1.0200 1)">0.6</text>
<text text-anchor="end" transform="translate(90.6 361.3) scale(1.0200 1)">0.6</text>
<text text-anchor="middle" transform="translate(437.9 578.0) scale(1.0200 1)">0.8</text>
<text text-anchor="end" transform="translate(90.6 295.7) scale(1.0200 1)">0.8</text>
<text text-anchor="middle" transform="translate(522.2 578.0) scale(1.0200 1)">1.0</text>
<text text-anchor="end" transform="translate(90.6 230.1) scale(1.0200 1)">1.0</text>
<text text-anchor="middle" transform="translate(606.4 578.0) scale(1.0200 1)">1.2</text>
<text text-anchor="end" transform="translate(90.6 164.5) scale(1.0200 1)">1.2</text>
<text text-anchor="middle" transform="translate(690.6 578.0) scale(1.0200 1)">1.4</text>
<text text-anchor="end" transform="translate(90.6 98.9) scale(1.0200 1)">1.4</text>
</g>
<text font-size="20.60" fill="#000" stroke="#000" stroke-width="0.2" y="54.8" style="opacity:0.999"><tspan x="205.6" textLength="102.6" lengthAdjust="spacingAndGlyphs">Conjugate</tspan> <tspan x="314.6" textLength="87.4" lengthAdjust="spacingAndGlyphs">Gradient</tspan> <tspan x="408.4" textLength="7.2" lengthAdjust="spacingAndGlyphs">-</tspan> <tspan x="422.0" textLength="116.4" lengthAdjust="spacingAndGlyphs">Rosenbrock</tspan> <tspan x="544.8" textLength="85.4" lengthAdjust="spacingAndGlyphs">Function</tspan></text>
</svg></body></html>
